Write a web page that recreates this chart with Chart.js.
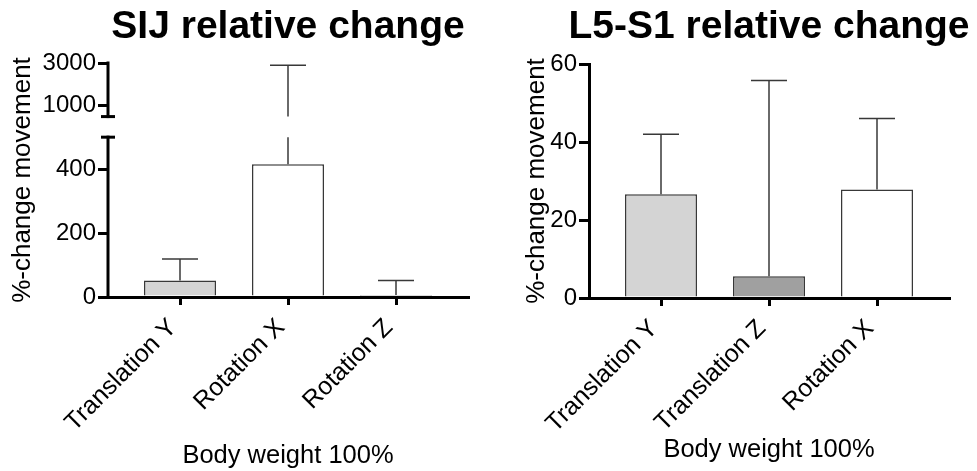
<!DOCTYPE html>
<html>
<head>
<meta charset="utf-8">
<script src="https://cdn.jsdelivr.net/npm/chart.js@4/dist/chart.umd.min.js"></script>
<style>
  html, body { margin: 0; padding: 0; background: #fff; overflow: hidden; }
  #sij { position: absolute; left: 0; top: 0; }
  #l5 { position: absolute; left: 510px; top: 0; }
</style>
</head>
<body>
<canvas id="sij" width="510" height="471"></canvas>
<canvas id="l5" width="467" height="471"></canvas>
<script>
/* data */
const sijLabels = ['Translation Y', 'Rotation X', 'Rotation Z'];
const sijMean = [52, 415, 6];
const sijSD = [67, 2485, 46];
const sijTicks = [0, 200, 400, 1000, 3000];
const sijBreak = 500;   // lower segment 0-500, upper segment 500-3000

const l5Labels = ['Translation Y', 'Translation Z', 'Rotation X'];
const l5Mean = [26.6, 5.6, 27.8];
const l5SD = [15.4, 50.2, 18.2];
const l5Ticks = [0, 20, 40, 60];

const LIGHT = '#d4d4d4', DARK = '#a0a0a0', WHITE = '#ffffff';
const INK = '#000';
const EDGE = '#383838';

Chart.defaults.font.family = '"Liberation Sans", Arial, Helvetica, sans-serif';
Chart.defaults.color = INK;

/* y axis with a gap, like the Prism segmented axis */
const LOW_SHARE = 0.683, HIGH_START = 0.771;
class BrokenScale extends Chart.LinearScale {
  getPixelForValue(value) {
    if (value === null || value === undefined) return NaN;
    const dec = value <= sijBreak
      ? value / sijBreak * LOW_SHARE
      : HIGH_START + (value - sijBreak) / (this.max - sijBreak) * (1 - HIGH_START);
    return this.getPixelForDecimal(dec);
  }
  getValueForPixel(pixel) {
    const dec = this.getDecimalForPixel(pixel);
    if (dec <= LOW_SHARE) return dec / LOW_SHARE * sijBreak;
    return sijBreak + Math.max(0, dec - HIGH_START) / (1 - HIGH_START) * (this.max - sijBreak);
  }
  segments() {
    return [[this.bottom, this.getPixelForDecimal(LOW_SHARE)],
            [this.getPixelForDecimal(HIGH_START), this.top]];
  }
}
BrokenScale.id = 'broken';
BrokenScale.defaults = {};
Chart.register(BrokenScale);

// upper error bars (mean + SD), cut where the axis is cut
const errorBars = {
  id: 'errorBars',
  afterDatasetsDraw(chart) {
    const ctx = chart.ctx, y = chart.scales.y;
    const ds = chart.data.datasets[0];
    const segs = y.segments ? y.segments() : [[y.bottom, y.top]];
    ctx.save();
    ctx.strokeStyle = EDGE;
    ctx.lineWidth = 1.5;
    chart.getDatasetMeta(0).data.forEach((bar, i) => {
      const top = y.getPixelForValue(ds.data[i].y + ds.sd[i]);
      const half = bar.width / 4;
      segs.forEach(([lo, hi]) => {
        const y0 = Math.min(bar.y, lo), y1 = Math.max(top, hi);
        if (y0 > y1) {
          ctx.beginPath();
          ctx.moveTo(bar.x, y0);
          ctx.lineTo(bar.x, y1);
          ctx.stroke();
        }
      });
      ctx.beginPath();
      ctx.moveTo(bar.x - half, top);
      ctx.lineTo(bar.x + half, top);
      ctx.stroke();
    });
    ctx.restore();
  }
};

// broken axis line, panel title and y title
const panelDecor = {
  id: 'panelDecor',
  afterDatasetsDraw(chart, args, opts) {
    const ctx = chart.ctx, a = chart.chartArea, y = chart.scales.y;
    ctx.save();
    if (y.segments) {
      const x = a.left;
      ctx.strokeStyle = INK;
      ctx.lineWidth = 3;
      ctx.lineCap = 'square';
      y.segments().forEach(([lo, hi]) => {
        ctx.beginPath();
        ctx.moveTo(x, lo);
        ctx.lineTo(x, hi);
        ctx.stroke();
      });
      ctx.lineCap = 'butt';
      const [low, high] = y.segments();
      [low[1], high[0]].forEach(py => {
        ctx.beginPath();
        ctx.moveTo(x - 7, py);
        ctx.lineTo(x + 7, py);
        ctx.stroke();
      });
    }
    ctx.fillStyle = INK;
    ctx.font = 'bold 39px "Liberation Sans", Arial, sans-serif';
    ctx.textAlign = 'center';
    ctx.textBaseline = 'alphabetic';
    ctx.fillText(opts.title, (a.left + a.right) / 2, opts.titleY);
    ctx.font = '26px "Liberation Sans", Arial, sans-serif';
    ctx.textBaseline = 'middle';
    ctx.translate(opts.yTitleX, (a.top + a.bottom) / 2);
    ctx.rotate(-Math.PI / 2);
    ctx.fillText(opts.yTitle, 0, 0);
    ctx.restore();
  }
};

function xAxis(labels, height, titleGap) {
  return {
    type: 'linear',
    min: -2 / 3,
    max: labels.length - 1 + 2 / 3,
    offset: false,
    afterBuildTicks: s => { s.ticks = labels.map((_, i) => ({ value: i })); },
    afterFit: s => { s.height = height; },
    ticks: {
      autoSkip: false, minRotation: 45, maxRotation: 45, padding: 8, labelOffset: -7,
      color: INK, font: { size: 25 },
      callback: v => labels[v]
    },
    grid: { offset: false, drawOnChartArea: false, tickLength: 8, lineWidth: 3, color: INK },
    border: { display: true, width: 3, color: INK },
    title: { display: true, text: 'Body weight 100%', color: INK, font: { size: 25.5 }, padding: { top: 0, bottom: titleGap } }
  };
}

function makePanel(id, o) {
  return new Chart(document.getElementById(id), {
    type: 'bar',
    data: {
      datasets: [{
        data: o.mean.map((v, i) => ({ x: i, y: v })),
        sd: o.sd,
        backgroundColor: o.colors,
        borderColor: EDGE,
        borderWidth: 1.5,
        barPercentage: 2 / 3,
        categoryPercentage: 1
      }]
    },
    options: {
      responsive: false,
      animation: false,
      devicePixelRatio: 1,
      layout: { padding: o.padding },
      plugins: {
        legend: { display: false },
        tooltip: { enabled: false },
        panelDecor: { title: o.title, titleY: 38, yTitle: '%-change movement', yTitleX: o.yTitleX }
      },
      scales: {
        x: xAxis(o.labels, o.xHeight, o.titleGap),
        y: {
          type: o.yType,
          min: 0,
          max: o.ticks[o.ticks.length - 1],
          afterBuildTicks: s => { s.ticks = o.ticks.map(v => ({ value: v })); },
          afterFit: s => { s.width = o.yWidth; },
          ticks: { padding: 2, color: INK, font: { size: 24 }, callback: v => String(v) },
          grid: { drawOnChartArea: false, tickLength: 10, lineWidth: 3, color: INK },
          border: { display: o.yType !== 'broken', width: 3, color: INK }
        }
      }
    },
    plugins: [errorBars, panelDecor]
  });
}

makePanel('sij', {
  title: 'SIJ relative change',
  labels: sijLabels, mean: sijMean, sd: sijSD, ticks: sijTicks,
  colors: [LIGHT, WHITE, DARK],
  yType: 'broken', yWidth: 108, yTitleX: 23, xHeight: 174, titleGap: 0,
  padding: { top: 63, right: 42, bottom: 0, left: 0 }
});

makePanel('l5', {
  title: 'L5-S1 relative change',
  labels: l5Labels, mean: l5Mean, sd: l5SD, ticks: l5Ticks,
  colors: [LIGHT, DARK, WHITE],
  yType: 'linear', yWidth: 79, yTitleX: 27, xHeight: 173, titleGap: 6,
  padding: { top: 64, right: 28, bottom: 0, left: 0 }
});
</script>
</body>
</html>
